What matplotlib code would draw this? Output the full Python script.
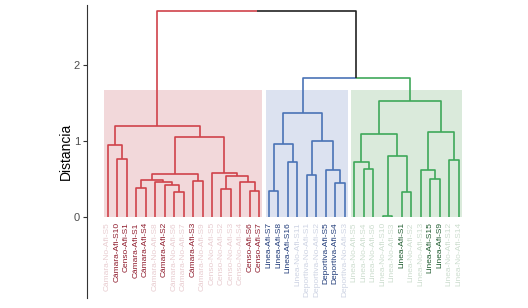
import numpy as np
import matplotlib
matplotlib.use("Agg")
import matplotlib.pyplot as plt
from matplotlib.patches import Rectangle

plt.rcParams['font.family'] = ['Liberation Sans', 'DejaVu Sans']

# leaves in dendrogram order
labels = [
    "Cámara-No-Afi-S5", "Cámara-Afi-S10", "Censo-Afi-S1", "Cámara-Afi-S1", "Cámara-Afi-S4",
    "Cámara-No-Afi-S8", "Cámara-Afi-S2", "Cámara-No-Afi-S6", "Cámara-No-Afi-S7", "Cámara-Afi-S3",
    "Cámara-No-Afi-S9", "Censo-No-Afi-S5", "Censo-No-Afi-S2", "Censo-No-Afi-S3", "Censo-No-Afi-S4",
    "Censo-Afi-S6", "Censo-Afi-S7",
    "Linea-Afi-S7", "Linea-Afi-S8", "Linea-Afi-S16", "Linea-No-Afi-S11", "Deportiva-No-Afi-S1",
    "Deportiva-No-Afi-S2", "Deportiva-Afi-S5", "Deportiva-Afi-S4", "Deportiva-No-Afi-S3",
    "Linea-No-Afi-S5", "Linea-No-Afi-S4", "Linea-No-Afi-S6", "Linea-No-Afi-S10", "Linea-No-Afi-S3",
    "Linea-Afi-S1", "Linea-No-Afi-S2", "Linea-No-Afi-S13", "Linea-Afi-S15", "Linea-Afi-S9",
    "Linea-No-Afi-S12", "Linea-No-Afi-S14",
]
cluster = [0] * 17 + [1] * 9 + [2] * 12

# merges, linkage style: nodes 0..37 are leaves, node 38+i is merge i
merge_left = [1, 0, 3, 7, 6, 5, 40, 9, 44, 12, 15, 14, 47, 11, 46, 39,
              17, 19, 54, 21, 24, 23, 57, 56,
              27, 26, 29, 31, 64, 63, 34, 33, 36, 69, 67,
              61, 53]
merge_right = [2, 38, 4, 8, 41, 42, 43, 10, 45, 13, 16, 48, 49, 50, 51, 52,
               18, 20, 55, 22, 25, 58, 59, 60,
               28, 62, 30, 32, 65, 66, 35, 68, 37, 70, 71,
               72, 73]
merge_height = [0.755, 0.95, 0.37, 0.33, 0.42, 0.455, 0.477, 0.475, 0.565, 0.357, 0.335, 0.455,
                0.535, 0.58, 1.046, 1.196,
                0.335, 0.72, 0.963, 0.55, 0.44, 0.618, 0.993, 1.36,
                0.63, 0.715, 0.01, 0.33, 0.80, 1.095, 0.50, 0.62, 0.75, 1.117, 1.523,
                1.824, 2.715]

line_colors = ["#D0424A", "#4A73B6", "#3FA85A"]
rect_colors = ["#F2D8DA", "#DCE2F0", "#DAEADB"]
dark_label = ["#8E1B2C", "#1F3A78", "#1E5B2E"]
light_label = ["#E8CCD0", "#CDD3E3", "#CCDDCE"]
rect_top = 1.67

n = len(labels)
xpos = {i: i + 1 for i in range(n)}
ypos = {i: 0.0 for i in range(n)}
ncol = {i: cluster[i] for i in range(n)}
for k, (a, b, h) in enumerate(zip(merge_left, merge_right, merge_height)):
    node = n + k
    xpos[node] = (xpos[a] + xpos[b]) / 2
    ypos[node] = h
    ncol[node] = ncol[a] if ncol[a] == ncol[b] else None

fig = plt.figure(figsize=(5.28, 3.08), dpi=100)
ax = fig.add_axes([0.1648, 0.0325, 0.743, 0.951])

# shaded cluster boxes
for c in range(3):
    idx = [i for i in range(n) if cluster[i] == c]
    x0 = xpos[idx[0]] - 0.36
    x1 = xpos[idx[-1]] + 0.3
    ax.add_patch(Rectangle((x0, -0.01), x1 - x0, rect_top + 0.01,
                           facecolor=rect_colors[c], edgecolor='none', zorder=0))

# dendrogram segments
for k, (a, b, h) in enumerate(zip(merge_left, merge_right, merge_height)):
    node = n + k
    for child in (a, b):
        col = line_colors[ncol[child]] if ncol[child] is not None else "#222222"
        ax.plot([xpos[node], xpos[child], xpos[child]], [h, h, ypos[child]],
                color=col, lw=1.2, solid_capstyle='butt', zorder=2)

# leaf labels
for i, lab in enumerate(labels):
    col = light_label[cluster[i]] if "No-Afi" in lab else dark_label[cluster[i]]
    ax.text(xpos[i], -0.075, lab, rotation=90, ha='center', va='top',
            fontsize=6, color=col)

ax.set_xlim(-1.17, 40.17)
ax.set_ylim(-1.075, 2.79)
ax.set_yticks([0, 1, 2])
ax.tick_params(axis='y', labelsize=8, labelcolor="#4D4D4D", length=3, pad=2, color="#333333")
ax.set_xticks([])
for s in ['top', 'right', 'bottom']:
    ax.spines[s].set_visible(False)
ax.spines['left'].set_color("#333333")
ax.set_ylabel("Distancia", fontsize=10)
ax.yaxis.set_label_coords(-0.036, 0.5)

fig.savefig("out.png", dpi=100)
